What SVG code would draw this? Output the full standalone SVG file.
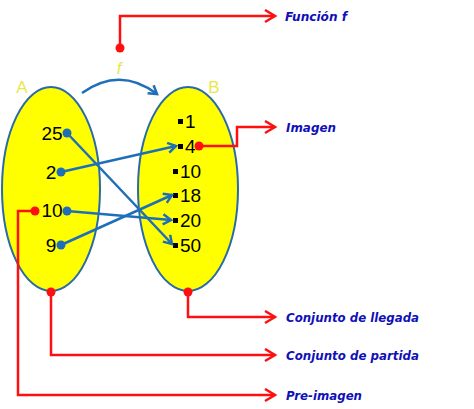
<svg xmlns="http://www.w3.org/2000/svg" width="474" height="409" viewBox="0 0 474 409">
<defs>
<style>
.set{fill:#ffff00;stroke:#2a6aa8;stroke-width:2}
.num{font-family:"Liberation Sans",Arial,sans-serif;font-size:19px;fill:#000}
.lab{font-family:"DejaVu Sans",Verdana,sans-serif;font-weight:bold;font-style:italic;font-size:13px;fill:#1010b8}
.yl{font-family:"Liberation Sans",Arial,sans-serif;font-size:17px;fill:#e8e84a}
.blue{fill:none;stroke:#1f6fb8;stroke-width:2.5}
.red{fill:none;stroke:#ff1010;stroke-width:2.5}
.bd{fill:#1f6fb8}
.rd{fill:#ff1010}
</style>
<marker id="ab" markerUnits="userSpaceOnUse" markerWidth="12" markerHeight="14" refX="9" refY="6" orient="auto">
<path d="M1,1 L9,6 L1,11" fill="none" stroke="#1f6fb8" stroke-width="2.5"/>
</marker>
<marker id="ar" markerUnits="userSpaceOnUse" markerWidth="14" markerHeight="16" refX="11" refY="7" orient="auto">
<path d="M1,1 L11,7 L1,13" fill="none" stroke="#ff1010" stroke-width="2.5"/>
</marker>
</defs>
<rect width="474" height="409" fill="#fff"/>
<g id="setA">
<ellipse class="set" cx="51" cy="189" rx="49" ry="102"/>
<text class="yl" x="22" y="93" text-anchor="middle">A</text>
<text class="num" x="52" y="140" text-anchor="middle">25</text>
<text class="num" x="51" y="179" text-anchor="middle">2</text>
<text class="num" x="52" y="217" text-anchor="middle">10</text>
<text class="num" x="51" y="252" text-anchor="middle">9</text>
</g>
<g id="setB">
<ellipse class="set" cx="188" cy="189" rx="50" ry="102"/>
<text class="yl" x="214" y="93" text-anchor="middle">B</text>
<rect x="178" y="119" width="5" height="5"/><text class="num" x="185" y="128">1</text>
<rect x="178" y="144" width="5" height="5"/><text class="num" x="185" y="153">4</text>
<rect x="173" y="169" width="5" height="5"/><text class="num" x="180" y="178">10</text>
<rect x="173" y="193" width="5" height="5"/><text class="num" x="180" y="202">18</text>
<rect x="173" y="218" width="5" height="5"/><text class="num" x="180" y="227">20</text>
<rect x="173" y="243" width="5" height="5"/><text class="num" x="180" y="252">50</text>
</g>
<g id="func">
<text class="yl" x="119" y="74" text-anchor="middle" font-style="italic">f</text>
</g>
<g id="connectors">
<path class="blue" d="M82,93 Q120,66 157,94" marker-end="url(#ab)"/>
<path class="blue" d="M67,133 L172,244" marker-end="url(#ab)"/>
<path class="blue" d="M61,172 L176,146" marker-end="url(#ab)"/>
<path class="blue" d="M67,211 L171,220" marker-end="url(#ab)"/>
<path class="blue" d="M61,245 L172,195" marker-end="url(#ab)"/>
<circle class="bd" cx="67" cy="133" r="4.5"/>
<circle class="bd" cx="61" cy="172" r="4.5"/>
<circle class="bd" cx="67" cy="211" r="4.5"/>
<circle class="bd" cx="61" cy="245" r="4.5"/>
<path class="red" d="M120,48 L120,16 L275,16" marker-end="url(#ar)"/>
<path class="red" d="M199,146 L237,146 L237,127 L275,127" marker-end="url(#ar)"/>
<path class="red" d="M188,292 L188,317 L275,317" marker-end="url(#ar)"/>
<path class="red" d="M51,292 L51,355 L275,355" marker-end="url(#ar)"/>
<path class="red" d="M35,211 L18,211 L18,395 L275,395" marker-end="url(#ar)"/>
<circle class="rd" cx="120" cy="48" r="4.5"/>
<circle class="rd" cx="199" cy="146" r="4.5"/>
<circle class="rd" cx="188" cy="292" r="4.5"/>
<circle class="rd" cx="51" cy="292" r="4.5"/>
<circle class="rd" cx="35" cy="211" r="4.5"/>
</g>
<g id="labels">
<text class="lab" x="285" y="21" textLength="62" lengthAdjust="spacingAndGlyphs">Función f</text>
<text class="lab" x="286" y="132" textLength="50" lengthAdjust="spacingAndGlyphs">Imagen</text>
<text class="lab" x="286" y="322" textLength="133" lengthAdjust="spacingAndGlyphs">Conjunto de llegada</text>
<text class="lab" x="286" y="360" textLength="133" lengthAdjust="spacingAndGlyphs">Conjunto de partida</text>
<text class="lab" x="286" y="400" textLength="76" lengthAdjust="spacingAndGlyphs">Pre-imagen</text>
</g>
</svg>
